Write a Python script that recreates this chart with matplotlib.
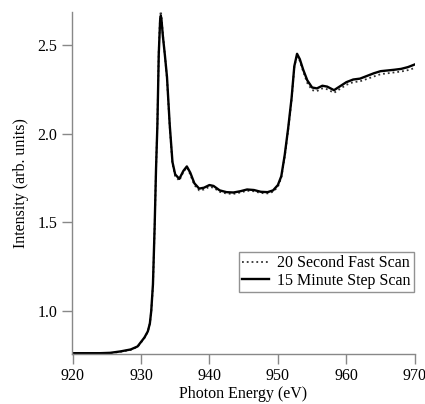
import numpy as np
import matplotlib
matplotlib.use("Agg")
import matplotlib.pyplot as plt

# Photon energy (eV) and intensities
energy = [920.0, 922.0, 924.0, 925.5, 927.0, 928.5, 929.5, 930.0, 930.5, 931.0,
          931.3, 931.5, 931.75, 932.0, 932.2, 932.4, 932.6, 932.8, 932.9, 933.0,
          933.2, 933.5, 933.8, 934.2, 934.6, 935.0, 935.6, 936.2, 936.7, 937.2,
          937.8, 938.5, 939.2, 940.0, 940.6, 941.5, 942.5, 943.5, 944.5, 945.5,
          946.5, 947.5, 948.5, 949.3, 950.0, 950.5, 951.0, 951.5, 952.0, 952.4,
          952.8, 953.2, 953.7, 954.3, 955.0, 955.7, 956.5, 957.2, 958.2, 959.0,
          960.0, 961.0, 962.0, 963.0, 964.0, 965.0, 966.0, 967.0, 968.0, 969.0,
          970.0]

step_scan = [0.762, 0.762, 0.762, 0.764, 0.772, 0.783, 0.800, 0.825, 0.850, 0.885,
             0.930, 1.000, 1.150, 1.480, 1.800, 2.050, 2.450, 2.640, 2.665, 2.640,
             2.550, 2.440, 2.320, 2.050, 1.840, 1.770, 1.745, 1.790, 1.815, 1.780,
             1.720, 1.690, 1.695, 1.710, 1.705, 1.680, 1.670, 1.668, 1.675, 1.685,
             1.682, 1.672, 1.670, 1.680, 1.710, 1.760, 1.880, 2.030, 2.200, 2.380,
             2.450, 2.420, 2.360, 2.300, 2.260, 2.255, 2.270, 2.265, 2.245, 2.265,
             2.290, 2.305, 2.310, 2.325, 2.340, 2.352, 2.356, 2.360, 2.365, 2.375,
             2.390]

fast_scan = [0.760, 0.760, 0.760, 0.762, 0.770, 0.781, 0.798, 0.822, 0.848, 0.883,
             0.928, 0.995, 1.140, 1.470, 1.800, 2.060, 2.470, 2.665, 2.690, 2.660,
             2.560, 2.440, 2.310, 2.040, 1.830, 1.760, 1.735, 1.785, 1.810, 1.770,
             1.710, 1.680, 1.685, 1.700, 1.695, 1.672, 1.662, 1.660, 1.668, 1.678,
             1.675, 1.665, 1.663, 1.672, 1.700, 1.752, 1.870, 2.020, 2.190, 2.375,
             2.445, 2.410, 2.350, 2.285, 2.245, 2.240, 2.255, 2.250, 2.230, 2.250,
             2.275, 2.290, 2.295, 2.308, 2.322, 2.335, 2.340, 2.345, 2.350, 2.358,
             2.370]

x_ticks = [920, 930, 940, 950, 960, 970]
y_ticks = [1.0, 1.5, 2.0, 2.5]

plt.rcParams['font.family'] = ['Liberation Serif', 'DejaVu Serif']

fig = plt.figure(figsize=(4.25, 4.04), dpi=100)
ax = fig.add_axes([0.169, 0.124, 0.807, 0.846])

ax.plot(energy, fast_scan, ':', color='#333333', lw=1.3, label='20 Second Fast Scan')
ax.plot(energy, step_scan, '-', color='black', lw=1.7, label='15 Minute Step Scan')

ax.set_xlim(919.9, 970)
ax.set_ylim(0.758, 2.685)
ax.set_xticks(x_ticks)
ax.set_xticklabels([str(t) for t in x_ticks])
ax.set_yticks(y_ticks)
ax.set_yticklabels(['%.1f' % t for t in y_ticks])

for s in ['top', 'right']:
    ax.spines[s].set_visible(False)
for s in ['left', 'bottom']:
    ax.spines[s].set_color('#888888')
    ax.spines[s].set_linewidth(1.0)
ax.tick_params(direction='out', length=7, width=1, color='#888888',
               labelsize=11.5, labelcolor='black')

ax.set_xlabel('Photon Energy (eV)', fontsize=11.5, labelpad=1)
ax.set_ylabel('Intensity (arb. units)', fontsize=11.5, labelpad=6)

leg = ax.legend(loc='lower right', bbox_to_anchor=(0.997, 0.181), fontsize=11.5,
                frameon=True, fancybox=False, handlelength=1.7, handletextpad=0.5,
                borderpad=0.2, labelspacing=0.1, borderaxespad=0)
leg.get_frame().set_edgecolor('#777777')
leg.get_frame().set_linewidth(1.0)

fig.savefig('out.png', dpi=100)
